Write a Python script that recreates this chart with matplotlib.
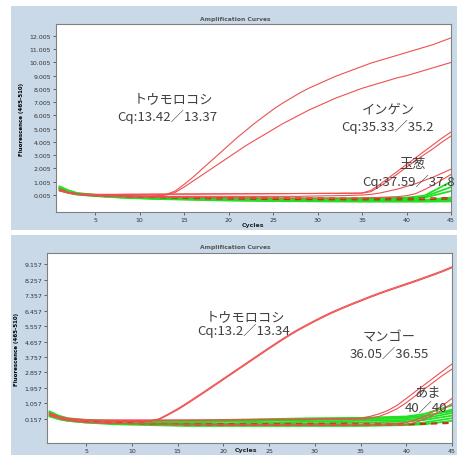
import numpy as np
import matplotlib
matplotlib.use("Agg")
import matplotlib.pyplot as plt
from matplotlib.patches import Rectangle

# cycle axis
cycles = np.arange(1, 46)
coarse = [1, 2, 3, 5, 8, 12, 16, 20, 25, 30, 35, 40, 42, 45]

# ---- top panel data ----
top_yticks = [0.005, 1.005, 2.005, 3.005, 4.005, 5.005, 6.005, 7.005, 8.005, 9.005, 10.005, 11.005, 12.005]

top_corn1 = [0.45, 0.2, 0.08, 0.03, 0.0, -0.02, -0.04, -0.05, -0.06, -0.07, -0.07, -0.05, 0.05, 0.3, 0.8,
             1.35, 1.95, 2.55, 3.15, 3.75, 4.35, 4.9, 5.45, 5.95, 6.45, 6.9, 7.3, 7.7, 8.05, 8.35,
             8.65, 8.95, 9.2, 9.45, 9.7, 9.95, 10.15, 10.35, 10.55, 10.75, 10.95, 11.15, 11.35, 11.6, 11.85]
top_corn2 = [0.4, 0.18, 0.07, 0.02, -0.01, -0.03, -0.05, -0.06, -0.07, -0.08, -0.08, -0.07, 0.0, 0.2, 0.6,
             1.05, 1.5, 1.95, 2.4, 2.85, 3.3, 3.75, 4.15, 4.55, 4.95, 5.35, 5.7, 6.05, 6.4, 6.7,
             7.0, 7.3, 7.55, 7.8, 8.05, 8.25, 8.45, 8.65, 8.85, 9.0, 9.2, 9.4, 9.6, 9.8, 10.0]
top_ingen1 = [0.4, 0.2, 0.1, 0.06, 0.05, 0.05, 0.05, 0.05, 0.06, 0.06, 0.06, 0.07, 0.07, 0.07, 0.08,
              0.08, 0.08, 0.09, 0.09, 0.09, 0.1, 0.1, 0.1, 0.1, 0.11, 0.11, 0.11, 0.12, 0.12, 0.12,
              0.13, 0.13, 0.14, 0.14, 0.15, 0.35, 0.8, 1.3, 1.8, 2.3, 2.8, 3.3, 3.8, 4.3, 4.75]
top_ingen2 = [0.35, 0.18, 0.08, 0.05, 0.04, 0.04, 0.04, 0.05, 0.05, 0.05, 0.06, 0.06, 0.06, 0.07, 0.07,
              0.07, 0.08, 0.08, 0.08, 0.09, 0.09, 0.09, 0.1, 0.1, 0.1, 0.1, 0.11, 0.11, 0.11, 0.12,
              0.12, 0.12, 0.13, 0.13, 0.14, 0.25, 0.65, 1.1, 1.6, 2.1, 2.6, 3.05, 3.5, 4.0, 4.45]
top_onion1 = [0.3, 0.15, 0.05, 0.0, -0.03, -0.05, -0.06, -0.07, -0.08, -0.09, -0.1, -0.1, -0.1, -0.1, -0.1,
              -0.1, -0.1, -0.1, -0.1, -0.1, -0.1, -0.1, -0.1, -0.1, -0.1, -0.1, -0.1, -0.1, -0.08, -0.07,
              -0.06, -0.05, -0.04, -0.02, 0.0, 0.05, 0.15, 0.3, 0.45, 0.65, 0.85, 1.1, 1.35, 1.65, 1.95]
top_onion2 = [0.35, 0.15, 0.05, -0.02, -0.05, -0.08, -0.1, -0.12, -0.14, -0.15, -0.16, -0.17, -0.18, -0.19, -0.2,
              -0.2, -0.21, -0.21, -0.22, -0.22, -0.22, -0.23, -0.23, -0.23, -0.23, -0.24, -0.24, -0.24, -0.24, -0.24,
              -0.24, -0.24, -0.24, -0.23, -0.22, -0.2, -0.18, -0.15, -0.12, -0.05, 0.1, 0.4, 0.75, 1.15, 1.55]
top_green = [
    [0.65, 0.35, 0.15, 0.02, -0.08, -0.15, -0.2, -0.22, -0.25, -0.25, -0.25, -0.2, -0.05, 1.0],
    [0.55, 0.3, 0.12, 0.0, -0.1, -0.18, -0.22, -0.25, -0.28, -0.3, -0.3, -0.25, -0.12, 0.6],
    [0.5, 0.25, 0.1, -0.02, -0.12, -0.2, -0.25, -0.3, -0.32, -0.33, -0.33, -0.3, -0.2, 0.3],
    [0.45, 0.2, 0.08, -0.05, -0.15, -0.25, -0.3, -0.35, -0.38, -0.4, -0.4, -0.4, -0.38, -0.3],
    [0.4, 0.18, 0.05, -0.06, -0.18, -0.28, -0.33, -0.38, -0.42, -0.44, -0.45, -0.45, -0.45, -0.42],
    [0.35, 0.15, 0.03, -0.08, -0.2, -0.3, -0.36, -0.42, -0.46, -0.48, -0.5, -0.5, -0.5, -0.48],
    [0.6, 0.3, 0.1, 0.0, -0.1, -0.2, -0.28, -0.32, -0.35, -0.37, -0.38, -0.38, -0.36, -0.2],
]
top_dark = [
    [0.45, 0.22, 0.08, -0.03, -0.12, -0.2, -0.26, -0.3, -0.33, -0.35, -0.36, -0.36, -0.35, -0.3],
    [0.38, 0.18, 0.05, -0.05, -0.1, -0.15, -0.18, -0.2, -0.22, -0.22, -0.24, -0.24, -0.22, -0.2],
]

# ---- bottom panel data ----
bot_yticks = [0.157, 1.057, 1.957, 2.857, 3.757, 4.657, 5.557, 6.457, 7.357, 8.257, 9.157]

bot_corn1 = [0.5, 0.3, 0.15, 0.1, 0.08, 0.06, 0.05, 0.04, 0.03, 0.02, 0.02, 0.05, 0.17, 0.45, 0.75,
             1.08, 1.43, 1.78, 2.14, 2.5, 2.86, 3.22, 3.58, 3.94, 4.3, 4.65, 4.99, 5.31, 5.6, 5.88,
             6.15, 6.4, 6.63, 6.85, 7.06, 7.27, 7.47, 7.66, 7.84, 8.02, 8.2, 8.39, 8.58, 8.78, 9.0]
bot_corn2 = [0.45, 0.28, 0.14, 0.09, 0.07, 0.05, 0.04, 0.03, 0.02, 0.01, 0.01, 0.03, 0.13, 0.4, 0.69,
             1.02, 1.37, 1.72, 2.08, 2.44, 2.8, 3.16, 3.52, 3.88, 4.24, 4.59, 4.93, 5.25, 5.54, 5.82,
             6.09, 6.34, 6.57, 6.79, 7.0, 7.21, 7.41, 7.6, 7.78, 7.96, 8.14, 8.33, 8.52, 8.72, 8.94]
bot_mango1 = [0.5, 0.3, 0.2, 0.15, 0.12, 0.1, 0.1, 0.1, 0.1, 0.1, 0.1, 0.1, 0.1, 0.1, 0.1,
              0.1, 0.1, 0.1, 0.1, 0.11, 0.11, 0.12, 0.12, 0.13, 0.13, 0.14, 0.14, 0.15, 0.15, 0.16,
              0.16, 0.17, 0.17, 0.18, 0.2, 0.3, 0.45, 0.65, 0.95, 1.35, 1.75, 2.15, 2.55, 2.95, 3.35]
bot_mango2 = [0.45, 0.28, 0.18, 0.12, 0.1, 0.08, 0.07, 0.07, 0.07, 0.07, 0.07, 0.07, 0.07, 0.07, 0.08,
              0.08, 0.08, 0.08, 0.09, 0.09, 0.09, 0.1, 0.1, 0.1, 0.11, 0.11, 0.11, 0.12, 0.12, 0.12,
              0.13, 0.13, 0.14, 0.14, 0.15, 0.2, 0.3, 0.5, 0.75, 1.1, 1.5, 1.9, 2.3, 2.7, 3.05]
bot_ama1 = [0.4, 0.22, 0.1, 0.03, -0.02, -0.05, -0.07, -0.08, -0.09, -0.1, -0.1, -0.11, -0.12, -0.12, -0.13,
            -0.13, -0.14, -0.14, -0.15, -0.15, -0.15, -0.15, -0.15, -0.15, -0.15, -0.15, -0.15, -0.15, -0.15, -0.15,
            -0.15, -0.15, -0.15, -0.14, -0.14, -0.13, -0.13, -0.12, -0.1, -0.05, 0.1, 0.3, 0.6, 0.95, 1.35]
bot_ama2 = [0.35, 0.2, 0.08, 0.0, -0.04, -0.07, -0.09, -0.1, -0.11, -0.12, -0.13, -0.14, -0.15, -0.16, -0.17,
            -0.18, -0.18, -0.19, -0.19, -0.2, -0.2, -0.2, -0.2, -0.2, -0.2, -0.2, -0.2, -0.2, -0.2, -0.2,
            -0.2, -0.2, -0.2, -0.2, -0.2, -0.2, -0.2, -0.19, -0.18, -0.15, -0.05, 0.15, 0.4, 0.7, 1.05]
bot_green = [
    [0.6, 0.35, 0.2, 0.1, 0.05, 0.02, 0.05, 0.1, 0.15, 0.2, 0.22, 0.3, 0.45, 0.95],
    [0.5, 0.3, 0.15, 0.05, 0.0, -0.05, -0.05, 0.0, 0.05, 0.1, 0.12, 0.2, 0.3, 0.7],
    [0.45, 0.25, 0.1, 0.0, -0.05, -0.1, -0.1, -0.1, -0.05, 0.0, 0.05, 0.1, 0.2, 0.5],
    [0.4, 0.2, 0.1, 0.0, -0.05, -0.1, -0.15, -0.15, -0.15, -0.1, -0.05, 0.0, 0.1, 0.35],
    [0.35, 0.15, 0.05, -0.05, -0.1, -0.15, -0.2, -0.2, -0.2, -0.2, -0.2, -0.15, -0.05, 0.2],
    [0.55, 0.3, 0.15, 0.05, 0.0, 0.0, 0.0, 0.05, 0.1, 0.15, 0.2, 0.25, 0.35, 0.6],
    [0.3, 0.15, 0.05, -0.05, -0.15, -0.2, -0.25, -0.25, -0.25, -0.25, -0.25, -0.2, -0.15, 0.05],
]
bot_dark = [
    [0.45, 0.25, 0.12, 0.02, -0.05, -0.1, -0.12, -0.12, -0.12, -0.1, -0.1, -0.12, -0.1, -0.05],
    [0.4, 0.2, 0.08, 0.0, -0.08, -0.14, -0.18, -0.2, -0.2, -0.2, -0.2, -0.18, -0.15, -0.1],
]

RED = "#ee5050"
GREEN = "#22e022"
DARKRED = "#c0301a"
TXT = "#404040"
JP = ["Noto Sans CJK JP", "DejaVu Sans"]

fig = plt.figure(figsize=(4.57, 4.56), dpi=100)
fig.patches.append(Rectangle((11/457, (456-231)/456), 1, 224/456, transform=fig.transFigure,
                             facecolor="#c9d9e8", edgecolor="none", zorder=-5))
fig.patches.append(Rectangle((11/457, 0), 1, 220/456, transform=fig.transFigure,
                             facecolor="#c9d9e8", edgecolor="none", zorder=-5))

ax1 = fig.add_axes([56/457, (456-213)/456, 395/457, 188/456])
ax2 = fig.add_axes([47/457, (456-444)/456, 405/457, 190/456])


def style(ax, yticks, ylim, xlim, title_y, cyc_x, cyc_y):
    ax.set_xlim(*xlim)
    ax.set_ylim(*ylim)
    ax.set_xticks([5, 10, 15, 20, 25, 30, 35, 40, 45])
    ax.set_yticks(yticks)
    ax.set_yticklabels(["%.3f" % v for v in yticks])
    ax.tick_params(labelsize=4.5, length=2, width=0.5, pad=1.5, colors="#333333")
    for s in ax.spines.values():
        s.set_color("#808080")
        s.set_linewidth(0.8)
    fig.text(235/457, 1 - title_y/456, "Amplification Curves", fontsize=4.3, color="#555555",
             ha="center", va="center", fontweight="bold")
    fig.text(cyc_x/457, 1 - cyc_y/456, "Cycles", fontsize=4.5, color="#222222",
             ha="center", va="center", fontweight="bold")


# top panel
for g in top_green:
    ax1.plot(coarse, g, color=GREEN, lw=1.3)
for d in top_dark:
    ax1.plot(coarse, d, color=DARKRED, lw=0.9, dashes=(5, 4))
for c in [top_ingen1, top_ingen2, top_onion1, top_onion2, top_corn1, top_corn2]:
    ax1.plot(cycles, c, color=RED, lw=0.8)
style(ax1, top_yticks, (-1.28, 12.9), (0.6, 45), 19, 253, 226)
ax1.set_ylabel("Fluorescence (465-510)", fontsize=4, fontweight="bold", labelpad=4)

ax1.text(13.8, 7.25, "トウモロコシ", family=JP, fontsize=9.5, color=TXT, ha="center", va="center")
ax1.text(13.1, 5.96, "Cq:13.42／13.37", family=JP, fontsize=9.5, color=TXT, ha="center", va="center")
ax1.text(37.9, 6.5, "インゲン", family=JP, fontsize=9.5, color=TXT, ha="center", va="center")
ax1.text(37.9, 5.2, "Cq:35.33／35.2", family=JP, fontsize=9.5, color=TXT, ha="center", va="center")
ax1.text(40.7, 2.4, "玉葱", family=JP, fontsize=9.5, color=TXT, ha="center", va="center")
ax1.text(35.0, 1.08, "Cq:37.59／37.8", family=JP, fontsize=9.5, color=TXT, ha="left", va="center",
         clip_on=False)

# bottom panel
for g in bot_green:
    ax2.plot(coarse, g, color=GREEN, lw=1.3)
for d in bot_dark:
    ax2.plot(coarse, d, color=DARKRED, lw=0.9, dashes=(5, 4))
for c in [bot_mango1, bot_mango2, bot_ama1, bot_ama2, bot_corn1, bot_corn2]:
    ax2.plot(cycles, c, color=RED, lw=0.8)
style(ax2, bot_yticks, (-1.24, 9.8), (0.72, 45), 248, 246, 451)
ax2.set_ylabel("Fluorescence (465-510)", fontsize=4, fontweight="bold", labelpad=4)

ax2.text(22.4, 6.12, "トウモロコシ", family=JP, fontsize=9.5, color=TXT, ha="center", va="center")
ax2.text(22.25, 5.35, "Cq:13.2／13.34", family=JP, fontsize=9.5, color=TXT, ha="center", va="center")
ax2.text(38.1, 4.9, "マンゴー", family=JP, fontsize=9.5, color=TXT, ha="center", va="center")
ax2.text(38.1, 3.96, "36.05／36.55", family=JP, fontsize=9.5, color=TXT, ha="center", va="center")
ax2.text(42.35, 1.72, "あま", family=JP, fontsize=9.5, color=TXT, ha="center", va="center")
ax2.text(42.2, 0.82, "40／40", family=JP, fontsize=9.5, color=TXT, ha="center", va="center")

fig.savefig("out.png", dpi=100)
